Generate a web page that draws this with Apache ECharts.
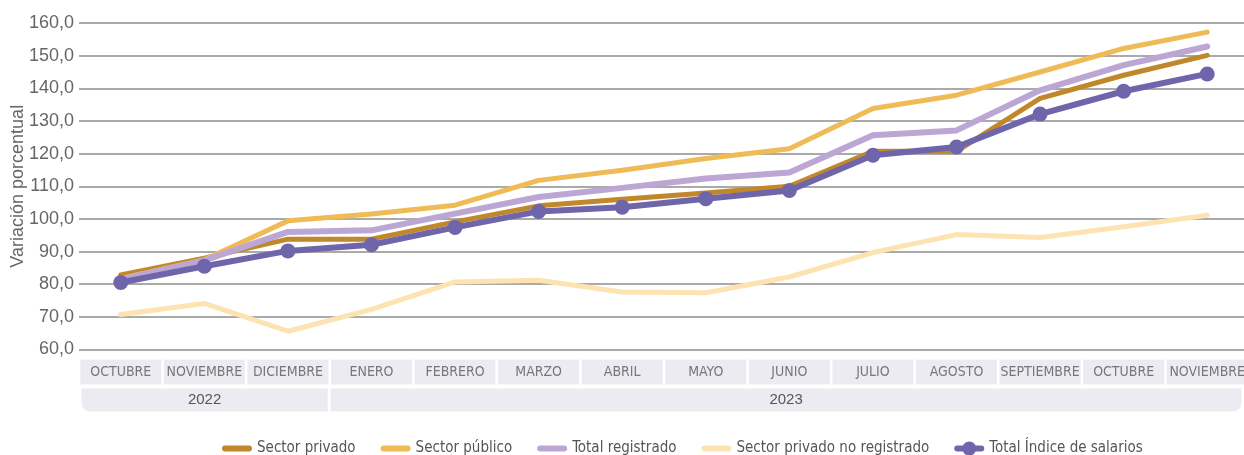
<!DOCTYPE html>
<html>
<head>
<meta charset="utf-8">
<script src="https://cdn.jsdelivr.net/npm/echarts@6/dist/echarts.min.js"></script>
<style>html,body{margin:0;padding:0;background:#fff;}#c{width:1244px;height:455px;}</style>
</head>
<body>
<div id="c"></div>
<script>
var months = ['OCTUBRE','NOVIEMBRE','DICIEMBRE','ENERO','FEBRERO','MARZO','ABRIL','MAYO','JUNIO','JULIO','AGOSTO','SEPTIEMBRE','OCTUBRE','NOVIEMBRE'];
var years = ['2022','2023'];
var yearSpans = [3, 11];
var yTicks = [60,70,80,90,100,110,120,130,140,150,160];

var sectorPrivado      = [82.8, 88.0, 93.8, 93.8, 99.1, 104.0, 106.0, 107.9, 110.0, 120.7, 120.7, 136.9, 144.0, 150.1];
var sectorPublico      = [81.8, 87.5, 99.4, 101.5, 104.2, 111.8, 114.9, 118.5, 121.5, 133.8, 137.9, 145.0, 152.2, 157.2];
var totalRegistrado    = [81.5, 87.3, 96.0, 96.5, 101.6, 106.7, 109.5, 112.4, 114.2, 125.6, 127.1, 139.4, 147.1, 152.8];
var privadoNoRegistrado= [70.7, 74.1, 65.6, 72.3, 80.7, 81.2, 77.6, 77.4, 82.2, 89.7, 95.2, 94.3, 97.6, 101.1];
var indiceSalarios     = [80.5, 85.5, 90.2, 92.1, 97.4, 102.3, 103.6, 106.2, 108.7, 119.5, 122.0, 132.1, 139.1, 144.4];

var names = ['Sector privado','Sector público','Total registrado','Sector privado no registrado','Total Índice de salarios'];
var colors = ['#c0882a','#efbb57','#bca6d3','#fee3b2','#6f65aa'];
var datasets = [sectorPrivado, sectorPublico, totalRegistrado, privadoNoRegistrado, indiceSalarios];
var widths = [5, 5, 6, 5, 6];

var narrow = "'Liberation Sans Narrow','Arial Narrow','DejaVu Sans Condensed',sans-serif";
var regular = "'Liberation Sans',Arial,sans-serif";

var barIcon = 'path://M3,4 H27 A3,3 0 0 1 27,10 H3 A3,3 0 0 1 3,4 Z';
var dotIcon = 'path://M3,4 H27 A3,3 0 0 1 27,10 H3 A3,3 0 0 1 3,4 Z M15,0 A7,7 0 1 1 14.99,0 Z';

var series = datasets.map(function(d, i){
  var isIdx = i === 4;
  return {
    name: names[i], type: 'line', data: d,
    xAxisIndex: 0, yAxisIndex: 0,
    color: colors[i],
    showSymbol: isIdx, symbol: isIdx ? 'circle' : 'none', symbolSize: isIdx ? 15 : 0,
    lineStyle: {width: widths[i], color: colors[i], cap: 'round', join: 'round'},
    itemStyle: {color: colors[i]},
    z: isIdx ? 10 : (i === 3 ? 2 : 3 + i),
    animation: false
  };
});

years.forEach(function(y, i){
  series.push({
    name: 'year' + y, type: 'bar', stack: 'years',
    xAxisIndex: 1, yAxisIndex: 1,
    data: [yearSpans[i]], barWidth: '100%',
    itemStyle: {color: '#edebf2', borderColor: '#fff', borderWidth: 1.5,
      borderRadius: i === 0 ? [0,0,0,9] : [0,0,9,0]},
    label: {show: true, position: 'inside', formatter: y, color: '#555', fontSize: 15, fontFamily: regular},
    silent: true, animation: false
  });
});

var legendData = names.map(function(n, i){
  return {name: n, icon: i === 4 ? dotIcon : barIcon, itemStyle: {color: colors[i], borderWidth: 0}};
});

var chart = echarts.init(document.getElementById('c'));
chart.setOption({
  backgroundColor: '#fff',
  animation: false,
  grid: [
    {left: 79, width: 1170, top: 23, height: 326.5, outerBoundsMode: 'none', containLabel: false},
    {left: 80, width: 1163, top: 387, height: 26, outerBoundsMode: 'none', containLabel: false}
  ],
  xAxis: [
    {type: 'category', gridIndex: 0, data: months, boundaryGap: true,
      axisLine: {show: false}, axisTick: {show: false},
      axisLabel: {interval: 0, margin: 10, color: '#777', fontSize: 14, fontFamily: narrow,
        width: 81, height: 25, lineHeight: 25, align: 'center', verticalAlign: 'top',
        backgroundColor: '#edebf2', overflow: 'none'}},
    {type: 'value', gridIndex: 1, min: 0, max: 14, show: false}
  ],
  yAxis: [
    {type: 'value', gridIndex: 0, min: yTicks[0], max: yTicks[yTicks.length-1], interval: 10,
      name: 'Variación porcentual', nameLocation: 'middle', nameGap: 52, nameRotate: 90,
      nameMoveOverlap: false,
      nameTextStyle: {color: '#666', fontSize: 18, fontFamily: regular},
      axisLine: {show: false}, axisTick: {show: false},
      axisLabel: {margin: 5, color: '#666', fontSize: 18, fontFamily: regular,
        formatter: function(v){ return v.toFixed(1).replace('.', ','); }},
      splitLine: {show: true, lineStyle: {color: '#aaaaaa', width: 2}}},
    {type: 'category', gridIndex: 1, data: ['años'], show: false}
  ],
  legend: {
    data: legendData, left: 217, top: 436, itemWidth: 30, itemHeight: 14, itemGap: 25,
    textStyle: {color: '#555', fontSize: 15, fontFamily: narrow}
  },
  series: series
});
</script>
</body>
</html>
